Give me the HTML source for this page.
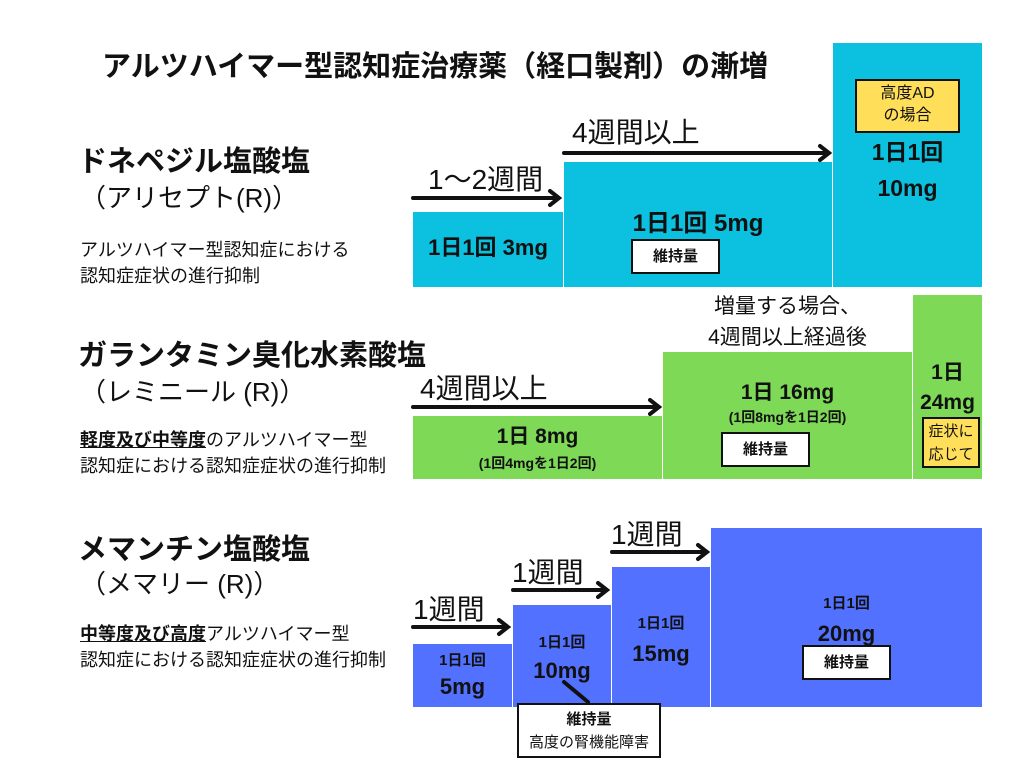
<!DOCTYPE html>
<html><head><meta charset="utf-8"><style>
body{margin:0;width:1024px;height:768px;background:#fff;position:relative;overflow:hidden;font-family:"Liberation Sans","Noto Sans CJK JP",sans-serif;color:#111}
div{position:absolute;box-sizing:border-box}
.c{background:#0cc0df}.g{background:#7ed957}.b{background:#5271ff}
.t{text-align:center;font-weight:bold;line-height:1.3}
.w{background:#fff;border:2px solid #111;font-weight:bold;font-size:15px;text-align:center}
.y{background:#ffde59;border:2px solid #111;font-size:16px;text-align:center;line-height:1.4}
.lbl{font-size:28px;white-space:nowrap;line-height:1}
.h{font-size:29px;font-weight:bold;white-space:nowrap}
.s{font-size:26px;white-space:nowrap}
.d{font-size:18px;line-height:26px;white-space:nowrap}
</style></head><body>
<div style="left:102px;top:43px;font-size:29px;font-weight:bold;white-space:nowrap">アルツハイマー型認知症治療薬（経口製剤）の漸増</div>

<div class="h" style="left:78px;top:138px">ドネペジル塩酸塩</div>
<div class="s" style="left:80px;top:178px">（アリセプト(R)）</div>
<div class="d" style="left:80px;top:237px">アルツハイマー型認知症における<br>認知症症状の進行抑制</div>

<div class="c" style="left:413px;top:212px;width:150px;height:75px"></div>
<div class="c" style="left:564px;top:162px;width:268px;height:125px"></div>
<div class="c" style="left:833px;top:43px;width:149px;height:244px"></div>
<div class="t" style="left:413px;top:234px;width:150px;font-size:22px">1日1回 3mg</div>
<div class="t" style="left:564px;top:208px;width:268px;font-size:24px">1日1回 5mg</div>
<div class="w" style="left:631px;top:239px;width:89px;height:35px;line-height:31px">維持量</div>
<div class="y" style="left:855px;top:79px;width:105px;height:54px;padding-top:2px">高度AD<br>の場合</div>
<div class="t" style="left:833px;top:134px;width:149px;font-size:23px;line-height:36px">1日1回<br>10mg</div>

<div class="lbl" style="left:428px;top:166px">1〜2週間</div>
<div class="lbl" style="left:572px;top:119px">4週間以上</div>

<div class="h" style="left:78px;top:332px">ガランタミン臭化水素酸塩</div>
<div class="s" style="left:80px;top:372px">（レミニール (R)）</div>
<div class="d" style="left:80px;top:427px"><b style="text-decoration:underline">軽度及び中等度</b>のアルツハイマー型<br>認知症における認知症症状の進行抑制</div>

<div class="g" style="left:413px;top:416px;width:249px;height:63px"></div>
<div class="g" style="left:663px;top:352px;width:249px;height:127px"></div>
<div class="g" style="left:913px;top:295px;width:69px;height:184px"></div>
<div class="t" style="left:413px;top:423px;width:249px;font-size:21px">1日 8mg</div>
<div class="t" style="left:413px;top:454px;width:249px;font-size:14px">(1回4mgを1日2回)</div>
<div class="t" style="left:663px;top:379px;width:249px;font-size:21px">1日 16mg</div>
<div class="t" style="left:663px;top:408px;width:249px;font-size:14px">(1回8mgを1日2回)</div>
<div class="w" style="left:721px;top:432px;width:89px;height:35px;line-height:31px">維持量</div>
<div class="t" style="left:913px;top:358px;width:69px;font-size:21px;line-height:30px">1日<br>24mg</div>
<div class="y" style="left:922px;top:417px;width:58px;height:51px;padding-top:1px;font-size:15px;line-height:23px">症状に<br>応じて</div>
<div style="left:663px;top:291px;width:249px;text-align:center;font-size:21px;line-height:31px">増量する場合、<br>4週間以上経過後</div>
<div class="lbl" style="left:420px;top:375px">4週間以上</div>

<div class="h" style="left:78px;top:526px">メマンチン塩酸塩</div>
<div class="s" style="left:80px;top:564px">（メマリー (R)）</div>
<div class="d" style="left:80px;top:621px"><b style="text-decoration:underline">中等度及び高度</b>アルツハイマー型<br>認知症における認知症症状の進行抑制</div>

<div class="b" style="left:413px;top:644px;width:99px;height:63px"></div>
<div class="b" style="left:513px;top:605px;width:98px;height:102px"></div>
<div class="b" style="left:612px;top:567px;width:98px;height:140px"></div>
<div class="b" style="left:711px;top:528px;width:271px;height:179px"></div>
<div class="t" style="left:413px;top:648px;width:99px;font-size:15px;line-height:26px">1日1回<br><span style="font-size:22px">5mg</span></div>
<div class="t" style="left:513px;top:629px;width:98px;font-size:15px;line-height:28px">1日1回<br><span style="font-size:22px">10mg</span></div>
<div class="t" style="left:612px;top:609px;width:98px;font-size:15px;line-height:30px">1日1回<br><span style="font-size:22px">15mg</span></div>
<div class="t" style="left:711px;top:589px;width:271px;font-size:15px;line-height:30px">1日1回<br><span style="font-size:22px">20mg</span></div>
<div class="w" style="left:802px;top:645px;width:89px;height:35px;line-height:31px">維持量</div>
<div class="w" style="left:517px;top:703px;width:144px;height:55px;line-height:23px;padding-top:3px;background:#fff">維持量<br><span style="font-weight:normal">高度の腎機能障害</span></div>
<div class="lbl" style="left:413px;top:596px">1週間</div>
<div class="lbl" style="left:512px;top:559px">1週間</div>
<div class="lbl" style="left:611px;top:521px">1週間</div>

<svg width="1024" height="768" style="position:absolute;left:0;top:0">
<g stroke="#111" stroke-width="4" fill="none" stroke-linecap="round">
<line x1="413" y1="198" x2="558" y2="198"/><polyline points="550,191 559,198 550,205"/>
<line x1="564" y1="153" x2="828" y2="153"/><polyline points="820,146 829,153 820,160"/>
<line x1="413" y1="407" x2="658" y2="407"/><polyline points="650,400 659,407 650,414"/>
<line x1="413" y1="627" x2="507" y2="627"/><polyline points="499,620 508,627 499,634"/>
<line x1="513" y1="590" x2="606" y2="590"/><polyline points="598,583 607,590 598,597"/>
<line x1="612" y1="552" x2="706" y2="552"/><polyline points="698,545 707,552 698,559"/>
<line x1="564" y1="682" x2="588" y2="702"/>
</g></svg>
</body></html>
